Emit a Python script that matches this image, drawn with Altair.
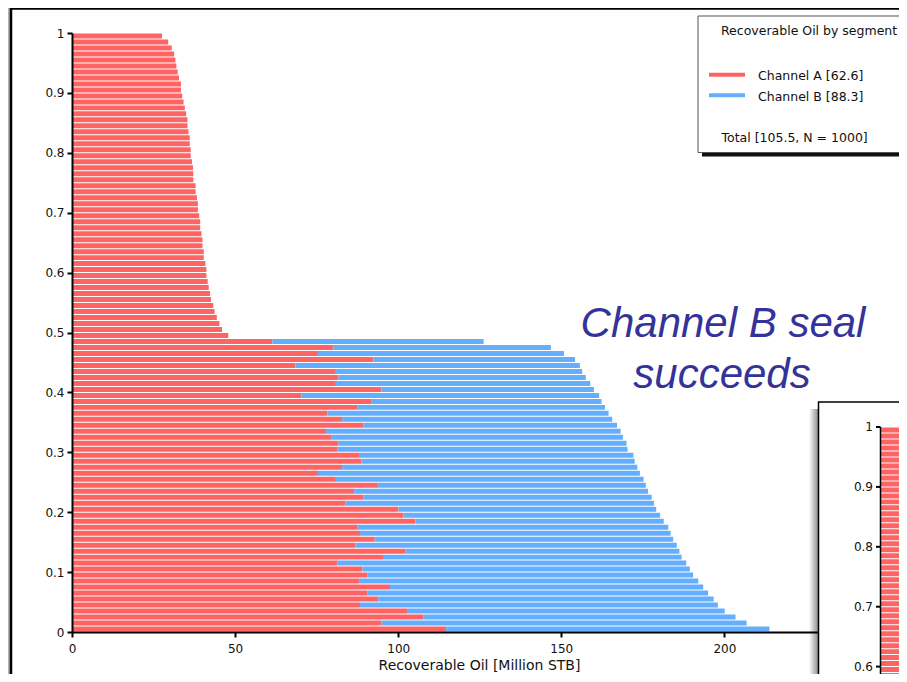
import altair as alt
import pandas as pd

# ---------------- data ----------------
# Exceedance levels from P=1 downward, one bar per 0.01.
# Levels where only Channel A contributes (Channel B seal fails)
channel_a_only = [27.6, 29.5, 30.6, 31.3, 31.7, 32.0, 32.4, 32.8, 33.4, 33.4,
                  33.8, 34.2, 34.6, 35.0, 35.4, 35.4, 35.7, 36.1, 36.1, 36.4,
                  36.4, 36.8, 37.1, 37.2, 37.2, 37.9, 37.9, 38.3, 38.6, 38.6,
                  39.0, 39.3, 39.3, 39.7, 40.0, 40.0, 40.4, 40.4, 40.9, 41.2,
                  41.2, 41.6, 41.9, 42.3, 42.6, 43.3, 43.7, 44.4, 45.2, 46.0,
                  47.9]
# Levels where both channels contribute (Channel B seal succeeds)
channel_a_mixed = [61.5, 80.2, 75.4, 92.4, 68.5, 80.9, 81.7, 80.9, 94.9, 70.3,
                   91.7, 87.6, 78.3, 82.8, 89.4, 77.9, 79.4, 81.7, 81.3, 88.0,
                   88.7, 82.8, 75.4, 80.9, 93.5, 86.5, 89.4, 83.9, 100.1, 101.6,
                   105.3, 87.6, 88.3, 92.8, 86.9, 102.3, 95.6, 81.3, 89.0, 90.5,
                   88.0, 97.5, 90.5, 93.9, 88.3, 102.7, 107.8, 94.9, 114.7]
total_mixed = [126.2, 146.8, 150.8, 154.2, 155.7, 156.4, 157.5, 158.9, 160.0, 161.6,
               162.3, 163.4, 164.5, 165.6, 167.1, 168.2, 168.9, 170.0, 170.3, 172.1,
               172.5, 173.3, 174.1, 175.2, 175.9, 176.6, 177.7, 178.4, 179.1, 180.3,
               181.4, 182.8, 183.5, 184.3, 185.4, 186.2, 186.9, 188.3, 189.4, 190.4,
               192.0, 193.5, 195.0, 196.7, 198.0, 200.1, 203.4, 206.8, 213.8]
# Partially visible inset panel (bars run past the cropped edge)
inset_channel_a = [30.0, 32.5, 33.8, 34.7, 35.4, 36.0, 36.5, 37.0, 37.5, 38.0,
                   38.4, 38.8, 39.2, 39.6, 40.0, 40.3, 40.7, 41.0, 41.4, 41.7,
                   42.1, 42.4, 42.8, 43.1, 43.5, 43.8, 44.2, 44.6, 45.0, 45.4,
                   45.8, 46.2, 46.6, 47.0, 47.5, 48.0, 48.5, 49.0, 49.5, 50.0,
                   50.6, 51.2, 51.8, 52.4, 53.0]

segments = ["Channel A", "Channel B"]
colors = ["#FF6464", "#64AEFF"]
legend_title = "Recoverable Oil by segment"
legend_labels = ["Channel A [62.6]", "Channel B [88.3]"]
legend_total = "Total [105.5, N = 1000]"
annotation_lines = ["Channel B seal", "succeeds"]
x_title = "Recoverable Oil [Million STB]"
y_ticks = [0, 0.1, 0.2, 0.3, 0.4, 0.5, 0.6, 0.7, 0.8, 0.9, 1]
x_ticks = [0, 50, 100, 150, 200]
inset_ticks = [1, 0.9, 0.8, 0.7, 0.6]
step = 0.01

# ---------------- layout ----------------
W, H = 746, 599
PX_PER_UNIT = 3.262
XMAX = W / PX_PER_UNIT
INSET_DX, INSET_DY = 809, 394
FONT = "DejaVu Sans"
INK = "#111111"

# ---------------- tables ----------------
rows = []
level = 0
for a in channel_a_only:
    hi = round(1 - level * step, 4)
    rows.append({"p_hi": hi, "p_lo": round(hi - step, 4), "segment": "Channel A", "start": 0.0, "end": a})
    level += 1
for a, t in zip(channel_a_mixed, total_mixed):
    hi = round(1 - level * step, 4)
    lo = round(hi - step, 4)
    rows.append({"p_hi": hi, "p_lo": lo, "segment": "Channel A", "start": 0.0, "end": a})
    rows.append({"p_hi": hi, "p_lo": lo, "segment": "Channel B", "start": a, "end": t})
    level += 1
bars_df = pd.DataFrame(rows)

inset_rows = []
for i, a in enumerate(inset_channel_a):
    hi = round(1 - i * step, 4)
    inset_rows.append({"p_hi": hi, "p_lo": round(hi - step, 4), "start": 0.0, "end": a})
inset_df = pd.DataFrame(inset_rows)
inset_axis_df = pd.DataFrame({"tick": inset_ticks})
inset_domain_df = pd.DataFrame({"p_hi": [1.0], "p_lo": [0.0]})
one = pd.DataFrame({"k": [0]})

x_scale = alt.Scale(domain=[0, XMAX], nice=False, zero=False)
y_scale = alt.Scale(domain=[0, 1], nice=False, zero=False)
color_scale = alt.Scale(domain=segments, range=colors)


def rect(x, x2, y, y2, **kw):
    return alt.Chart(one).mark_rect(**kw).encode(
        x=alt.value(x), x2=alt.value(x2), y=alt.value(y), y2=alt.value(y2))


def text(s, x, y, **kw):
    return alt.Chart(one).mark_text(text=s, **kw).encode(x=alt.value(x), y=alt.value(y))


# ---------------- main bars ----------------
bars = alt.Chart(bars_df).mark_rect(yOffset=0.5, y2Offset=-0.5).encode(
    x=alt.X("start:Q", scale=x_scale,
            axis=alt.Axis(values=x_ticks, title=x_title, grid=False, labelFlush=False,
                          tickSize=5, labelPadding=6, zindex=1,
                          titleX=407, titleY=37, titleBaseline="alphabetic",
                          titleFontSize=14, titleFontWeight="normal", titleFont=FONT,
                          titleColor=INK)),
    x2="end:Q",
    y=alt.Y("p_hi:Q", scale=y_scale,
            axis=alt.Axis(values=y_ticks, format="~g", title=None, grid=False,
                          tickSize=5, labelPadding=3, zindex=1)),
    y2="p_lo:Q",
    color=alt.Color("segment:N", scale=color_scale, legend=None),
)

# ---------------- frame ----------------
frame_shadow = rect(-64, -62, -25, H + 60, fill="#b0b0b0")
frame_left = alt.Chart(one).mark_rule(color="black", strokeWidth=2.5).encode(
    x=alt.value(-61), y=alt.value(-25), y2=alt.value(H + 60))
frame_top = alt.Chart(one).mark_rule(color="black", strokeWidth=2.5).encode(
    x=alt.value(-61), x2=alt.value(W + 120), y=alt.value(-24.5))

# ---------------- annotation ----------------
ann_kw = dict(font="Liberation Sans", fontStyle="italic", fontSize=42, color="#333399",
              align="center", baseline="alphabetic")
ann1 = text(annotation_lines[0], 651, 304, **ann_kw)
ann2 = text(annotation_lines[1], 650, 355, **ann_kw)

# ---------------- legend box ----------------
leg_kw = dict(font=FONT, fontSize=12.5, color=INK, align="left", baseline="alphabetic")
leg_shadow = rect(630, 860, -13, 123.5, fill="#111111")
leg_box = rect(626, 860, -17, 119.5, fill="white", stroke="#555555", strokeWidth=1)
leg_title = text(legend_title, 649, 2, **leg_kw)
leg_items = []
for i, (lab, col) in enumerate(zip(legend_labels, colors)):
    yy = 41.7 + i * 20.6
    leg_items.append(alt.Chart(one).mark_rule(color=col, strokeWidth=4).encode(
        x=alt.value(637), x2=alt.value(673), y=alt.value(yy)))
    leg_items.append(text(lab, 686, yy + 5.3, **leg_kw))
leg_total = text(legend_total, 649.5, 108.7, **leg_kw)

# ---------------- inset panel (partially visible) ----------------
shadow_grad = alt.Gradient(gradient="linear",
                           stops=[alt.GradientStop(color="white", offset=0),
                                  alt.GradientStop(color="#8a8a8a", offset=1)],
                           x1=0, x2=1, y1=0, y2=0)
inset_shadow = rect(737, 746.5, 376, H + 80, fill=shadow_grad)
inset_panel = rect(746.5, 900, 369, H + 80, fill="white", stroke="black", strokeWidth=1.5)
inset_bars = alt.Chart(inset_df).mark_rect(
    color=colors[0], xOffset=INSET_DX, x2Offset=INSET_DX,
    yOffset=INSET_DY + 0.5, y2Offset=INSET_DY - 0.5).encode(
    x=alt.X("start:Q", scale=x_scale), x2="end:Q",
    y=alt.Y("p_hi:Q", scale=y_scale), y2="p_lo:Q")
inset_domain = alt.Chart(inset_domain_df).mark_rule(
    color="black", strokeWidth=1.5, yOffset=INSET_DY, y2Offset=INSET_DY).encode(
    x=alt.value(INSET_DX - 0.5), y=alt.Y("p_hi:Q", scale=y_scale), y2="p_lo:Q")
inset_tick_marks = alt.Chart(inset_axis_df).mark_rule(
    color="black", strokeWidth=2, yOffset=INSET_DY).encode(
    x=alt.value(INSET_DX - 5), x2=alt.value(INSET_DX - 0.5), y=alt.Y("tick:Q", scale=y_scale))
inset_tick_labels = alt.Chart(inset_axis_df).mark_text(
    font=FONT, fontSize=12, color=INK, align="right", baseline="middle",
    yOffset=INSET_DY).encode(
    x=alt.value(INSET_DX - 8), y=alt.Y("tick:Q", scale=y_scale),
    text=alt.Text("tick:Q", format="~g"))

chart = alt.layer(
    frame_shadow, frame_left, frame_top, bars, ann1, ann2,
    leg_shadow, leg_box, leg_title, *leg_items, leg_total,
    inset_shadow, inset_panel, inset_bars, inset_domain, inset_tick_marks, inset_tick_labels,
).properties(
    width=W, height=H,
    padding={"left": 64, "top": 25, "right": 81, "bottom": 42},
    autosize=alt.AutoSizeParams(type="none"),
).configure_view(stroke=None).configure_axis(
    labelFont=FONT, labelFontSize=12, labelColor=INK,
    domainColor="black", domainWidth=2, tickColor="black", tickWidth=2,
)

chart.save("out.html", embed_options={"renderer": "svg", "actions": False})
